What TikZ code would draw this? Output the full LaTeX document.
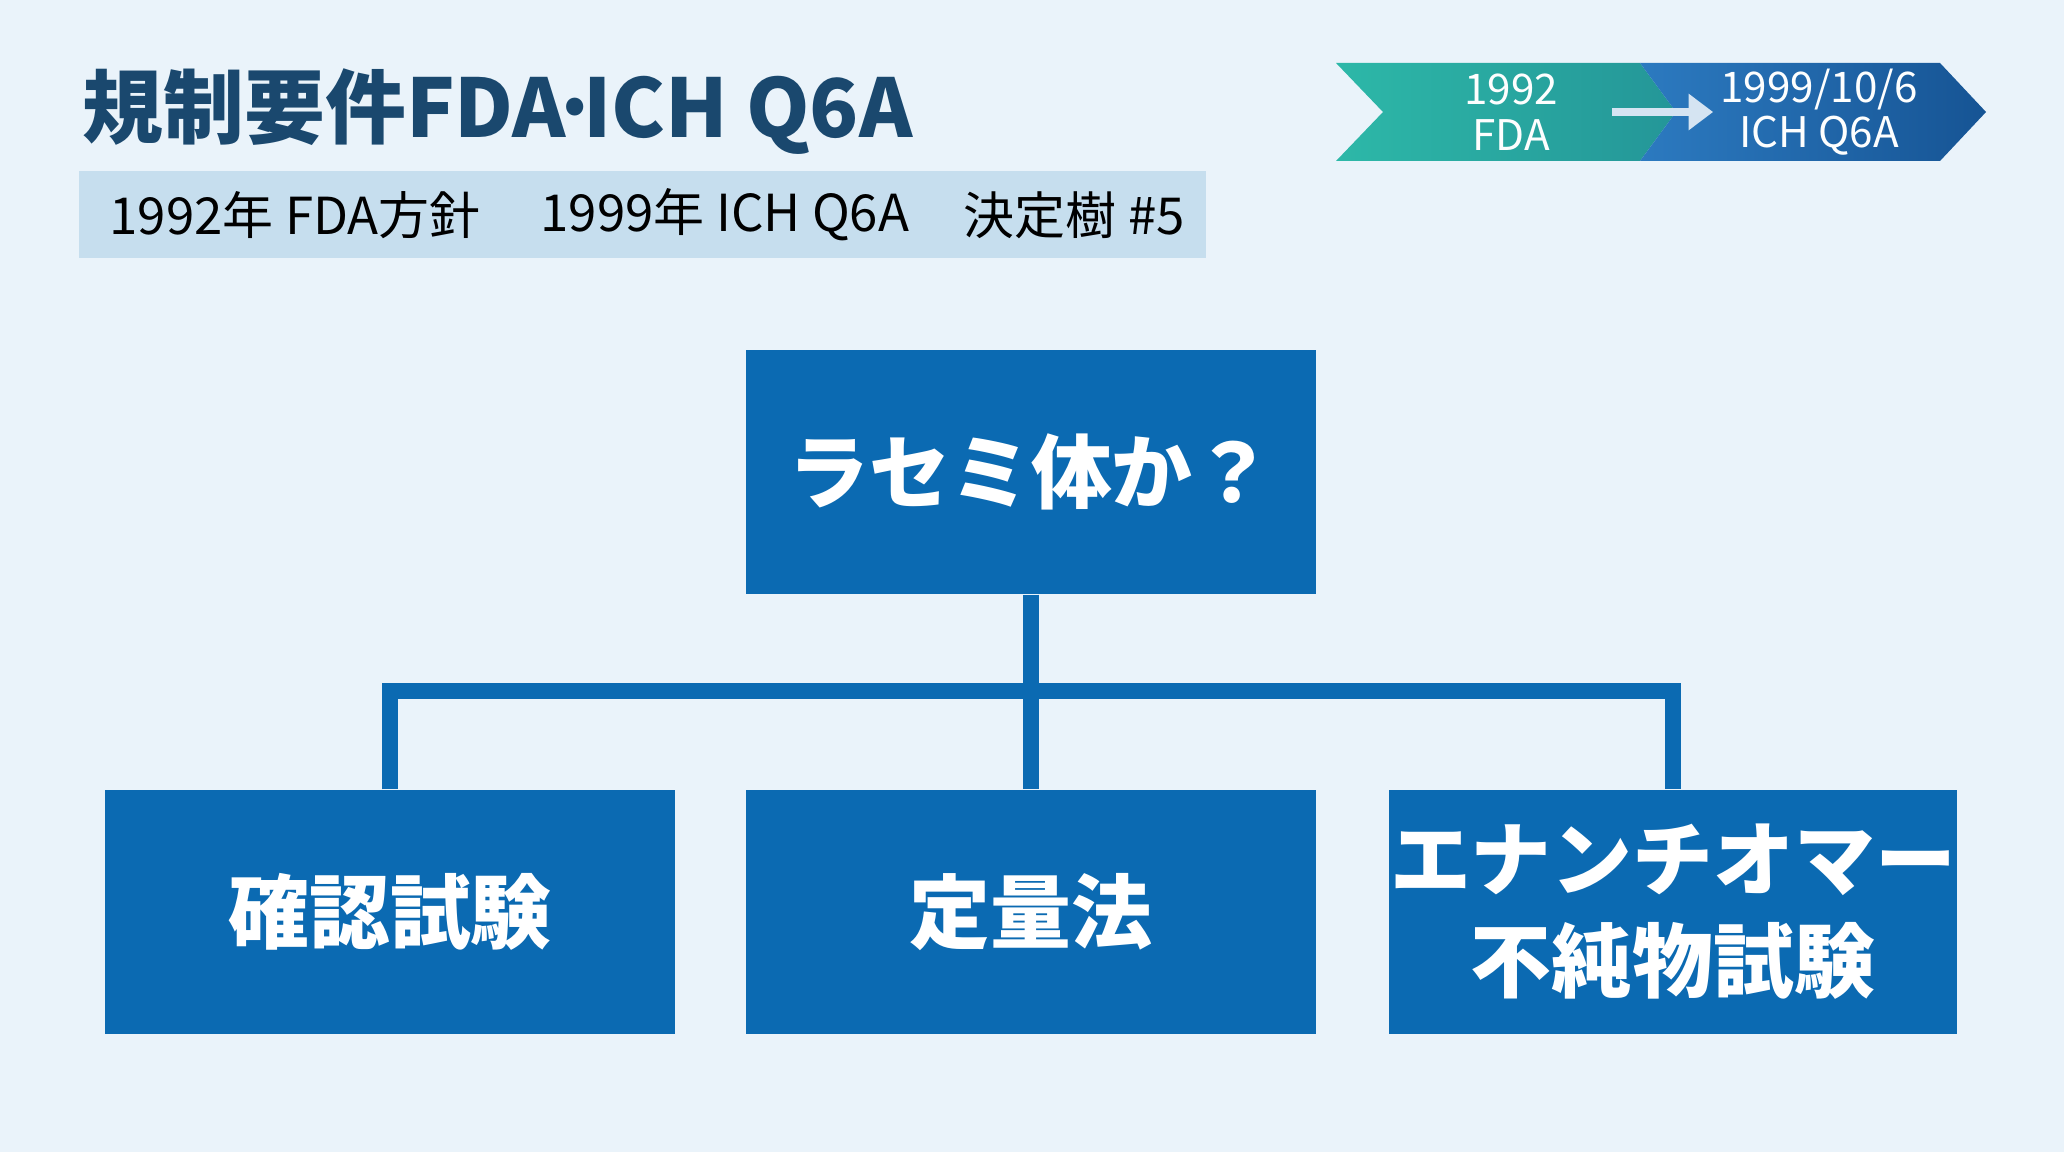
\documentclass[tikz,border=0pt]{standalone}
\usepackage{fontspec}
\setmainfont{Noto Sans CJK JP}
\definecolor{reg_bg}{RGB}{234, 243, 250}
\definecolor{reg_box}{RGB}{11, 106, 178}
\definecolor{reg_title}{RGB}{26, 72, 110}
\definecolor{reg_band}{RGB}{198, 222, 238}
\definecolor{reg_teal}{RGB}{45, 184, 168}
\definecolor{reg_teal_dk}{RGB}{36, 150, 152}
\definecolor{reg_blue}{RGB}{44, 122, 192}
\definecolor{reg_blue_dk}{RGB}{22, 84, 148}
\usetikzlibrary{arrows.meta, positioning, calc}

\begin{document}
\begin{tikzpicture}[
    qbox/.style={fill=reg_box, text=white, font=\fontsize{23}{29}\selectfont\bfseries,
      minimum width=5.70cm, minimum height=2.44cm, align=center, inner sep=0pt},
    conn/.style={draw=reg_box, line width=4.6pt, line join=miter},
    tltext/.style={text=white!90!reg_bg, font=\fontsize{12}{13}\selectfont, align=center}
  ]
  \fill[reg_bg] (0,0) rectangle (20.64,-11.52);
  \useasboundingbox (0,0) rectangle (20.64,-11.52);

  % title and band
  \node[anchor=base west, text=reg_title, font=\fontsize{23}{27}\selectfont\bfseries, inner sep=0pt]
    (title) at (0.82,-1.38) {規制要件FDA\kern-0.2em·\kern-0.2emICH Q6A};
  \fill[reg_band] (0.79,-1.71) rectangle (12.06,-2.58);
  \foreach \x/\txt/\nm in {1.09/1992年 FDA方針/b1, 5.40/1999年 ICH Q6A/b2, 9.63/決定樹 \#5/b3} {
    \node[anchor=west, font=\fontsize{14.5}{18}\selectfont, inner sep=0pt] (\nm) at (\x,-2.15) {\txt};
  }

  % timeline chevron
  \shade[left color=reg_teal, right color=reg_teal_dk]
    (13.36,-0.63) -- (16.40,-0.63) -- (16.76,-1.12) -- (16.40,-1.61) -- (13.36,-1.61) -- (13.83,-1.12) -- cycle;
  \shade[left color=reg_blue, right color=reg_blue_dk]
    (16.40,-0.63) -- (19.40,-0.63) -- (19.86,-1.12) -- (19.40,-1.61) -- (16.40,-1.61) -- (16.76,-1.12) -- cycle;
  \node[tltext] (t1) at (15.11,-1.12) {1992\\FDA};
  \node[tltext] (t2) at (18.19,-1.12) {1999/10/6\\ICH Q6A};
  \draw[draw=white!80!reg_blue, line width=2.4pt, -{Triangle[length=7pt, width=10pt]}]
    (t1.east) ++(0.42,0) coordinate (a1) -- ($(a1 -| t2.west)+(0.05,0)$);

  % decision tree
  \node[qbox] (q) at (10.31,-4.72) {ラセミ体か？};
  \node[qbox] (c1) at (3.90,-9.12) {確認試験};
  \node[qbox] (c2) at (10.31,-9.12) {定量法};
  \node[qbox, minimum width=5.68cm] (c3) at (16.73,-9.12) {エナンチオマー\\不純物試験};

  \coordinate (hub) at ($(q.south)+(0,-0.96)$);
  \draw[conn] (q.south) -- (c2.north);
  \draw[conn] (c1.north) -- (c1.north |- hub) -- (c3.north |- hub) -- (c3.north);
\end{tikzpicture}
\end{document}
